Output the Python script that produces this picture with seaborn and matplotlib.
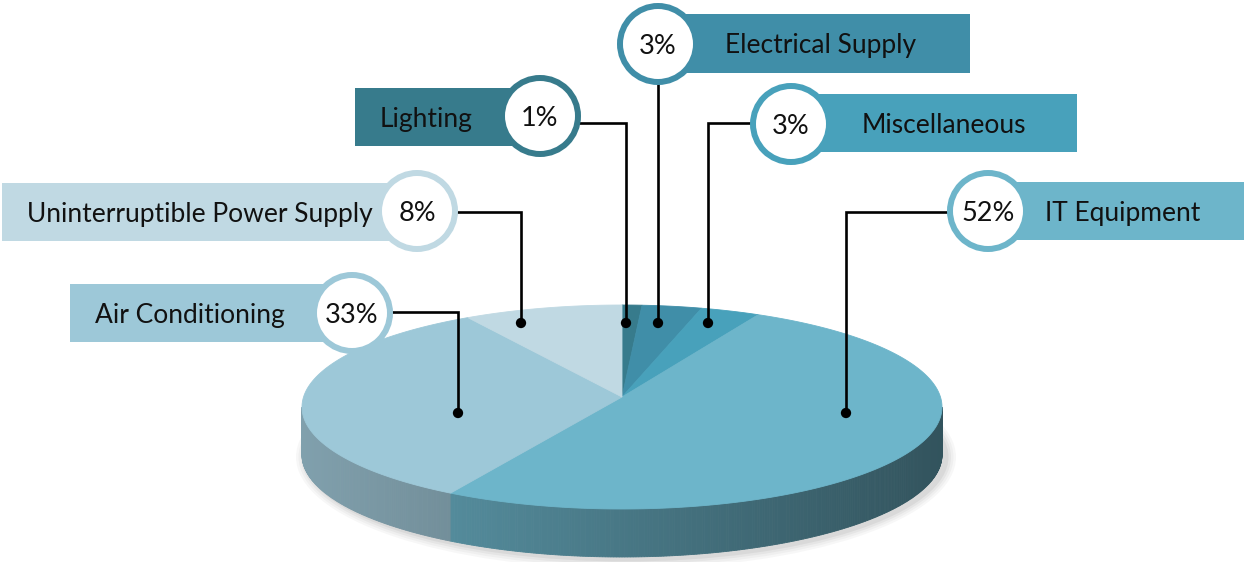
import numpy as np
import matplotlib
matplotlib.use("Agg")
import matplotlib.pyplot as plt
from matplotlib.patches import Polygon, Rectangle, Circle, Ellipse
import matplotlib.colors as mcolors
import seaborn as sns

# ---------------- data ----------------
categories = ["Lighting", "Electrical Supply", "Miscellaneous",
              "IT Equipment", "Air Conditioning", "Uninterruptible Power Supply"]
shares = [1, 3, 3, 52, 33, 8]
colors = ["#377b8c", "#408ea8", "#48a1bb", "#6db5ca", "#9dc8d8", "#c0d9e3"]

# ---------------- layout (pixel space) ----------------
W, H = 1244, 562
PIE_CX, PIE_CY, PIE_APEX_Y = 622, 407, 397
PIE_A, PIE_B, PIE_DEPTH = 320, 102, 48

layout = {
    "Lighting": dict(rect=(355, 88, 540, 146), circle=(540, 116), text_x=380,
                     route=[(540, 123), (626, 123), (626, 323)]),
    "Electrical Supply": dict(rect=(658, 14, 970, 73), circle=(658, 44), text_x=725,
                              route=[(658, 44), (658, 323)]),
    "Miscellaneous": dict(rect=(791, 94, 1077, 152), circle=(791, 124), text_x=862,
                          route=[(791, 123), (708, 123), (708, 323)]),
    "IT Equipment": dict(rect=(988, 182, 1244, 240), circle=(988, 211), text_x=1045,
                         route=[(988, 212), (846, 212), (846, 413)]),
    "Air Conditioning": dict(rect=(70, 284, 352, 342), circle=(352, 313), text_x=95,
                             route=[(352, 312), (458, 312), (458, 413)]),
    "Uninterruptible Power Supply": dict(rect=(2, 183, 417, 241), circle=(417, 211), text_x=27,
                                         route=[(417, 212), (521, 212), (521, 323)]),
}

sns.set_theme(style="white")
plt.rcParams["font.family"] = ["Lato", "DejaVu Sans"]

fig = plt.figure(figsize=(W / 100, H / 100), dpi=100)
ax = fig.add_axes([0, 0, 1, 1])
ax.set_xlim(0, W)
ax.set_ylim(H, 0)
ax.axis("off")

# ---------------- 3D pie ----------------
fracs = np.array(shares, dtype=float) / np.sum(shares)
bounds = np.concatenate([[0.0], np.cumsum(fracs)]) * 2 * np.pi  # clockwise from 12 o'clock


def ell(theta, dy=0.0):
    return PIE_CX + PIE_A * np.sin(theta), PIE_CY - PIE_B * np.cos(theta) + dy


# soft shadow under the pie
for k, alpha in enumerate([0.03, 0.03, 0.04, 0.05]):
    grow = 10 - 2.5 * k
    ax.add_patch(Ellipse((PIE_CX + 4, PIE_CY + PIE_DEPTH + 2), 2 * (PIE_A + grow),
                         2 * (PIE_B + grow), facecolor="black", edgecolor="none",
                         alpha=alpha, zorder=0.5))

# side (front half only)
N = 360
thetas = np.linspace(np.pi / 2, 3 * np.pi / 2, N + 1)
for t0, t1 in zip(thetas[:-1], thetas[1:]):
    tm = 0.5 * (t0 + t1)
    idx = np.searchsorted(bounds, tm) - 1
    idx = min(max(idx, 0), len(shares) - 1)
    x0, y0 = ell(t0)
    x1, y1 = ell(t1)
    xm, _ = ell(tm)
    u = (xm - (PIE_CX - PIE_A)) / (2 * PIE_A)
    shade = 0.86 - 0.40 * u
    base = np.array(mcolors.to_rgb(colors[idx]))
    if idx == 4:  # greyer side for the lighter slice
        base = base * np.array([0.95, 0.93, 0.93])
    c = np.clip(base * shade, 0, 1)
    poly = Polygon([(x0, y0), (x1, y1), (x1, y1 + PIE_DEPTH), (x0, y0 + PIE_DEPTH)],
                   closed=True, facecolor=c, edgecolor=c, lw=0.6, zorder=1)
    ax.add_patch(poly)

# top faces
for i, (cat, col) in enumerate(zip(categories, colors)):
    th = np.linspace(bounds[i], bounds[i + 1], max(int(fracs[i] * 400), 4))
    xs, ys = ell(th)
    pts = [(PIE_CX, PIE_APEX_Y)] + list(zip(xs, ys))
    ax.add_patch(Polygon(pts, closed=True, facecolor=col, edgecolor=col, lw=0.6, zorder=2))

# ---------------- callouts ----------------
ring_px = 6
ring_lw = ring_px * 72 / 100
for cat, val, col in zip(categories, shares, colors):
    L = layout[cat]
    x0, y0, x1, y1 = L["rect"]
    ax.add_patch(Rectangle((x0, y0), x1 - x0, y1 - y0, facecolor=col, edgecolor="none", zorder=3))
    rx, ry = zip(*L["route"])
    ax.plot(rx, ry, color="black", lw=1.9, solid_joinstyle="miter", zorder=4)
    cx, cy = L["circle"]
    ax.add_patch(Circle((cx, cy), 41 - ring_px / 2, facecolor="white", edgecolor=col,
                        lw=ring_lw, zorder=5))
    ax.text(cx, cy, f"{val}%", ha="center", va="center_baseline", fontsize=19.5,
            color="#111111", zorder=6)
    ax.text(L["text_x"], (y0 + y1) / 2, cat, ha="left", va="center_baseline", fontsize=19,
            color="#111111", zorder=6)

anchor_x = [layout[c]["route"][-1][0] for c in categories]
anchor_y = [layout[c]["route"][-1][1] for c in categories]
sns.scatterplot(x=anchor_x, y=anchor_y, ax=ax, color="black", s=55, edgecolor="none",
                zorder=7, legend=False)
ax.set_xlim(0, W)
ax.set_ylim(H, 0)
ax.axis("off")

fig.savefig("out.png", dpi=100)
